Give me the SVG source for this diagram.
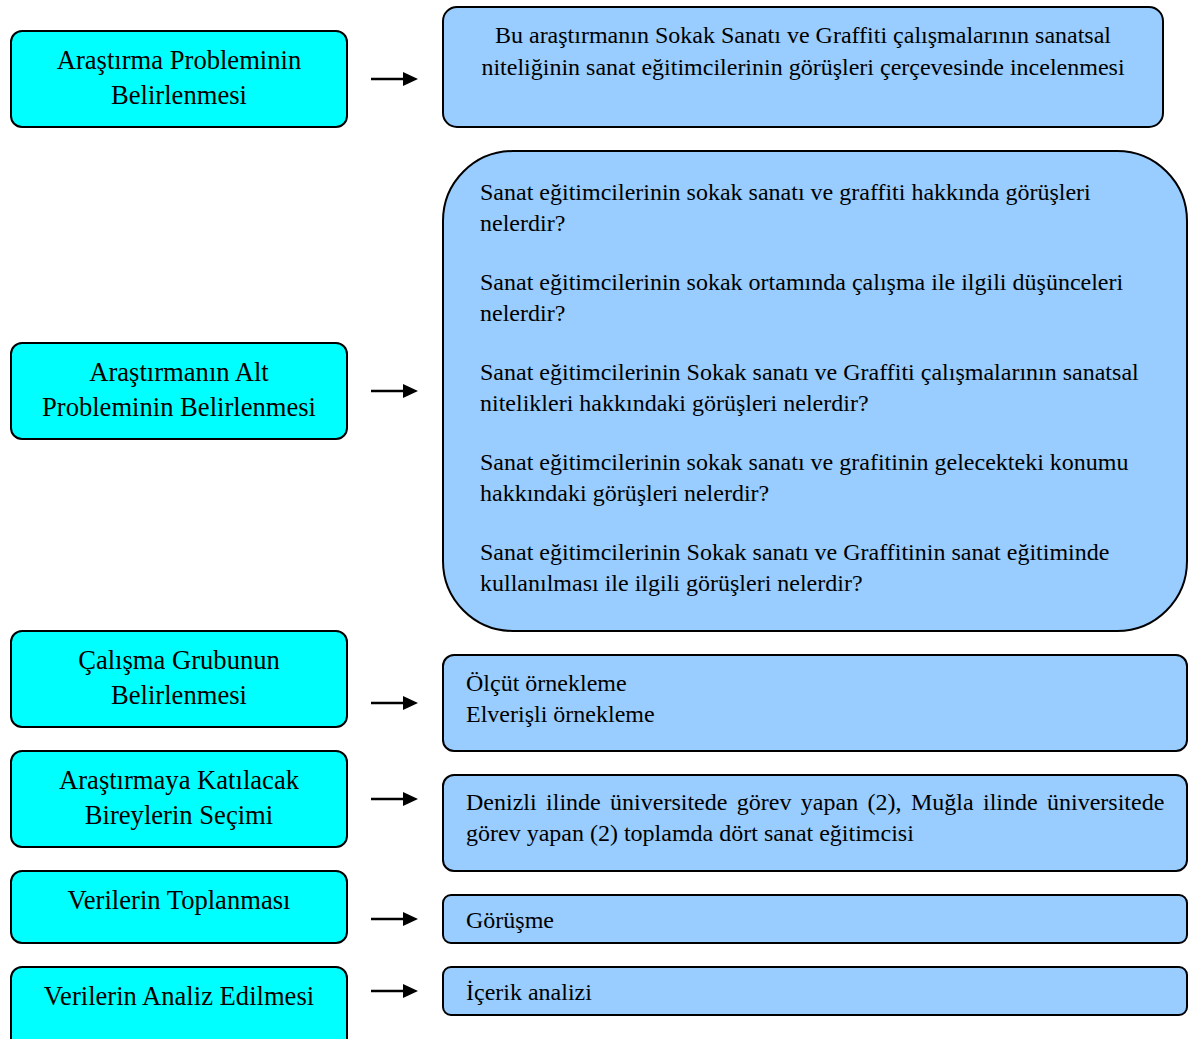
<svg xmlns="http://www.w3.org/2000/svg" width="1190" height="1039" viewBox="0 0 1190 1039">
<style>
.step{fill:#00FFFF;stroke:#000;stroke-width:2}
.info{fill:#99CCFF;stroke:#000;stroke-width:2}
text{font-family:"Liberation Serif","Times New Roman",serif;font-size:24px;fill:#000}
.c{text-anchor:middle}
.s{font-size:26.6px}
.conn line{stroke:#000;stroke-width:2.5}
</style>
<defs>
<marker id="ah" markerWidth="16" markerHeight="16" refX="0" refY="7" orient="auto" markerUnits="userSpaceOnUse">
<path d="M0,0 L15,7 L0,14 Z" fill="#000"/>
</marker>
</defs>
<rect width="1190" height="1039" fill="#fff"/>

<g id="step1"><rect class="step" x="11" y="31" width="336" height="96" rx="11"/>
<text class="c s" x="179" y="69">Araştırma Probleminin</text><text class="c s" x="179" y="104">Belirlenmesi</text></g>
<g id="step2"><rect class="step" x="11" y="343" width="336" height="96" rx="11"/>
<text class="c s" x="179" y="381">Araştırmanın Alt</text><text class="c s" x="179" y="416">Probleminin Belirlenmesi</text></g>
<g id="step3"><rect class="step" x="11" y="631" width="336" height="96" rx="11"/>
<text class="c s" x="179" y="669">Çalışma Grubunun</text><text class="c s" x="179" y="704">Belirlenmesi</text></g>
<g id="step4"><rect class="step" x="11" y="751" width="336" height="96" rx="11"/>
<text class="c s" x="179" y="789">Araştırmaya Katılacak</text><text class="c s" x="179" y="824">Bireylerin Seçimi</text></g>
<g id="step5"><rect class="step" x="11" y="871" width="336" height="72" rx="11"/>
<text class="c s" x="179" y="909">Verilerin Toplanması</text></g>
<g id="step6"><rect class="step" x="11" y="967" width="336" height="84" rx="11"/>
<text class="c s" x="179" y="1005">Verilerin Analiz Edilmesi</text></g>

<g id="info1"><rect class="info" x="443" y="7" width="720" height="120" rx="14"/>
<text class="c" x="803" y="43">Bu araştırmanın Sokak Sanatı ve Graffiti çalışmalarının sanatsal</text>
<text class="c" x="803" y="75">niteliğinin sanat eğitimcilerinin görüşleri çerçevesinde incelenmesi</text></g>
<g id="info2"><rect class="info" x="443" y="151" width="744" height="480" rx="70"/>
<text x="480" y="200">Sanat eğitimcilerinin sokak sanatı ve graffiti hakkında görüşleri</text>
<text x="480" y="231">nelerdir?</text>
<text x="480" y="290">Sanat eğitimcilerinin sokak ortamında çalışma ile ilgili düşünceleri</text>
<text x="480" y="321">nelerdir?</text>
<text x="480" y="380">Sanat eğitimcilerinin Sokak sanatı ve Graffiti çalışmalarının sanatsal</text>
<text x="480" y="411">nitelikleri hakkındaki görüşleri nelerdir?</text>
<text x="480" y="470">Sanat eğitimcilerinin sokak sanatı ve grafitinin gelecekteki konumu</text>
<text x="480" y="501">hakkındaki görüşleri nelerdir?</text>
<text x="480" y="560">Sanat eğitimcilerinin Sokak sanatı ve Graffitinin sanat eğitiminde</text>
<text x="480" y="591">kullanılması ile ilgili görüşleri nelerdir?</text></g>
<g id="info3"><rect class="info" x="443" y="655" width="744" height="96" rx="11"/>
<text x="466" y="691">Ölçüt örnekleme</text><text x="466" y="722">Elverişli örnekleme</text></g>
<g id="info4"><rect class="info" x="443" y="775" width="744" height="96" rx="11"/>
<text x="466" y="810" word-spacing="3.4">Denizli ilinde üniversitede görev yapan (2), Muğla ilinde üniversitede</text>
<text x="466" y="841">görev yapan (2) toplamda dört sanat eğitimcisi</text></g>
<g id="info5"><rect class="info" x="443" y="895" width="744" height="48" rx="8"/>
<text x="466" y="928">Görüşme</text></g>
<g id="info6"><rect class="info" x="443" y="967" width="744" height="48" rx="8"/>
<text x="466" y="1000">İçerik analizi</text></g>

<g id="connectors" class="conn">
<line x1="371" y1="79" x2="403" y2="79" marker-end="url(#ah)"/>
<line x1="371" y1="391" x2="403" y2="391" marker-end="url(#ah)"/>
<line x1="371" y1="703" x2="403" y2="703" marker-end="url(#ah)"/>
<line x1="371" y1="799" x2="403" y2="799" marker-end="url(#ah)"/>
<line x1="371" y1="919" x2="403" y2="919" marker-end="url(#ah)"/>
<line x1="371" y1="991" x2="403" y2="991" marker-end="url(#ah)"/>
</g>
</svg>
